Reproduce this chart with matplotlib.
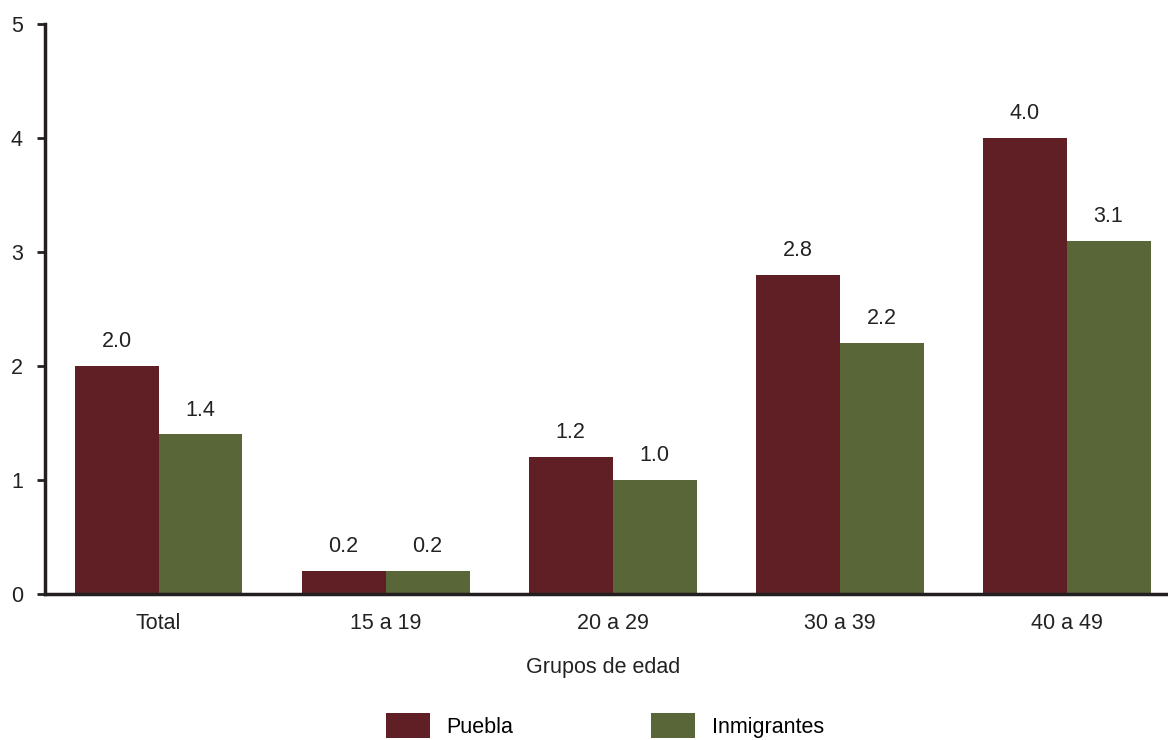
import matplotlib
matplotlib.use("Agg")
import matplotlib.pyplot as plt
import numpy as np

plt.rcParams['font.family'] = ['Liberation Sans', 'DejaVu Sans']

grupos = ['Total', '15 a 19', '20 a 29', '30 a 39', '40 a 49']
puebla = [2.0, 0.2, 1.2, 2.8, 4.0]
inmigrantes = [1.4, 0.2, 1.0, 2.2, 3.1]

col_puebla = '#5f1f24'
col_inmig = '#586638'
fs = 15.5

fig = plt.figure(figsize=(11.68, 7.40), dpi=100)
ax = fig.add_axes([45 / 1168, 146 / 740, 1 - 45 / 1168, 570 / 740])

x = np.arange(len(grupos))
w = 0.37
b1 = ax.bar(x - w / 2, puebla, w, color=col_puebla, label='Puebla')
b2 = ax.bar(x + w / 2, inmigrantes, w, color=col_inmig, label='Inmigrantes')

for bars, vals in ((b1, puebla), (b2, inmigrantes)):
    for r, v in zip(bars, vals):
        ax.annotate(f'{v:.1f}', (r.get_x() + r.get_width() / 2, v),
                    xytext=(0, 10), textcoords='offset points',
                    ha='center', va='bottom', fontsize=fs, color='#222222')

ax.set_xlim(-0.5, 4.447)
ax.set_ylim(0, 5)
ax.set_yticks([0, 1, 2, 3, 4, 5])
ax.set_xticks(x)
ax.set_xticklabels(grupos)
ax.tick_params(axis='x', length=0, labelsize=fs, pad=14, colors='#222222')
ax.tick_params(axis='y', length=6, width=2, labelsize=fs, pad=10, colors='#222222')
for s in ['top', 'right']:
    ax.spines[s].set_visible(False)
for s in ['left', 'bottom']:
    ax.spines[s].set_linewidth(2.5)
    ax.spines[s].set_color('#231f20')

fig.text(603 / 1168, 1 - 668 / 740, 'Grupos de edad', ha='center', va='center',
         fontsize=fs, color='#222222')

fig.legend(handles=[b1, b2], loc='upper center', bbox_to_anchor=(0.518, 1 - 713 / 740),
           ncol=2, frameon=False, fontsize=fs, handlelength=2.05, handleheight=1.4,
           columnspacing=6.4, handletextpad=0.75, borderpad=0, borderaxespad=0)

fig.savefig('out.png', dpi=100)
